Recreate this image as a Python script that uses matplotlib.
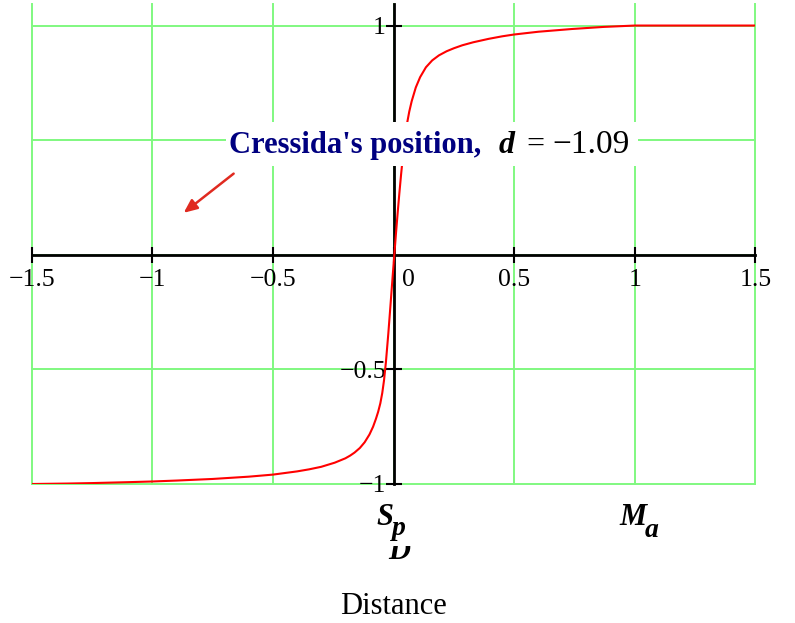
import matplotlib.pyplot as plt
from matplotlib import transforms
from matplotlib.patches import Rectangle

plt.rcParams['font.family'] = ['Liberation Serif', 'DejaVu Serif']

# curve
distance = [-1.5, -1.35, -1.25, -1.1, -1.0, -0.9, -0.75, -0.6, -0.5, -0.4,
            -0.35, -0.3, -0.244, -0.2, -0.18, -0.162, -0.14, -0.12, -0.1,
            -0.085, -0.073, -0.064, -0.055, -0.047, -0.04, -0.032, -0.022,
            -0.014, -0.009, -0.004, 0.003, 0.01, 0.017, 0.024, 0.031, 0.04,
            0.05, 0.057, 0.065, 0.075, 0.092, 0.11, 0.134, 0.16, 0.188, 0.22,
            0.25, 0.285, 0.33, 0.394, 0.45, 0.5, 0.6, 0.74, 0.87, 1.0, 1.25,
            1.5]
signal = [-1.0, -0.998, -0.996, -0.992, -0.989, -0.985, -0.978, -0.968,
          -0.959, -0.945, -0.936, -0.925, -0.907, -0.888, -0.876, -0.863,
          -0.843, -0.818, -0.784, -0.75, -0.715, -0.685, -0.648, -0.603,
          -0.55, -0.47, -0.345, -0.235, -0.165, -0.095, 0.0, 0.095, 0.185,
          0.27, 0.35, 0.445, 0.53, 0.58, 0.625, 0.67, 0.73, 0.775, 0.818,
          0.848, 0.87, 0.888, 0.901, 0.914, 0.927, 0.942, 0.953, 0.961,
          0.973, 0.985, 0.994, 1.0, 1.0, 1.0]

x_ticks = [-1.5, -1, -0.5, 0, 0.5, 1, 1.5]
x_tick_labels = ['\u22121.5', '\u22121', '\u22120.5', '', '0.5', '1', '1.5']
y_ticks = [-1, -0.5, 0.5, 1]
y_tick_labels = ['\u22121', '\u22120.5', '0.5', '1']
grid_x = [-1.5, -1, -0.5, 0, 0.5, 1, 1.5]
grid_y = [-1, -0.5, 0, 0.5, 1]

note_text = "Cressida's position,"
note_value = '\u22121.09'
arrow_tail = (-0.663, 0.354)
arrow_head = (-0.870, 0.183)

GRID = '#80f880'
NAVY = '#000080'

fig = plt.figure(figsize=(7.95, 6.23), dpi=100)
ax = fig.add_axes([31.7 / 795, 139 / 623, 723.8 / 795, 480 / 623])
ax.set_xlim(-1.5, 1.5)
ax.set_ylim(-1, 1.094)

for gx in grid_x:
    ax.axvline(gx, color=GRID, lw=1.4, zorder=1, clip_on=False)
for gy in grid_y:
    ax.axhline(gy, color=GRID, lw=1.4, zorder=1, clip_on=False)

ax.plot(distance, signal, color='red', lw=1.5, zorder=3,
        solid_joinstyle='round')

for s in ['top', 'right']:
    ax.spines[s].set_visible(False)
for s in ['left', 'bottom']:
    ax.spines[s].set_position(('data', 0))
    ax.spines[s].set_linewidth(2)
    ax.spines[s].set_zorder(2)

ax.set_xticks(x_ticks)
ax.set_xticklabels(x_tick_labels)
ax.set_yticks(y_ticks)
ax.set_yticklabels(y_tick_labels)
ax.tick_params(direction='inout', length=11, width=1.5, labelsize=18.5)
ax.tick_params(axis='x', pad=5)
ax.tick_params(axis='y', pad=0)
ax.annotate('0', (0, 0), xytext=(6, -10), textcoords='offset points',
            ha='left', va='top', fontsize=18.5)

# white box behind the note
ax.add_patch(Rectangle((-0.695, 0.386), 1.708, 0.192, facecolor='white',
                       edgecolor='none', zorder=5))
ax.text(-0.682, 0.444, note_text, color=NAVY, fontsize=22, fontweight='bold',
        va='baseline', zorder=6)
ax.text(0.436, 0.444, 'd', fontsize=23, fontweight='bold', style='italic',
        va='baseline', zorder=6)
ax.text(0.55, 0.444, '=', fontsize=23, va='baseline', zorder=6)
ax.text(0.66, 0.444, note_value, fontsize=24, va='baseline', zorder=6)
ax.annotate('', xy=arrow_head, xytext=arrow_tail,
            arrowprops=dict(arrowstyle='-|>,head_length=0.8,head_width=0.35',
                            color='#e02a20', lw=1.8, shrinkA=0, shrinkB=0),
            zorder=4)

# labels under the plot
tr = transforms.blended_transform_factory(ax.transData, fig.transFigure)
lab = dict(fontsize=22, fontweight='bold', style='italic', va='baseline',
           transform=tr)
fig.text(-0.069, 0.1573, 'S', **lab)
fig.text(-0.007, 0.1413, 'p', **dict(lab, fontsize=20))
d_lab = fig.text(-0.023, 0.1025, 'D', **lab)
d_lab.set_clip_box(transforms.TransformedBbox(
    transforms.Bbox.from_extents(0, 0, 1, 0.1236), fig.transFigure))
d_lab.set_clip_on(True)
fig.text(0.934, 0.1573, 'M', **lab)
fig.text(1.042, 0.138, 'a', **dict(lab, fontsize=20))
fig.text(0, 0.0145, 'Distance', fontsize=22, ha='center', va='baseline',
         transform=tr)

fig.savefig('out.png', dpi=100)
